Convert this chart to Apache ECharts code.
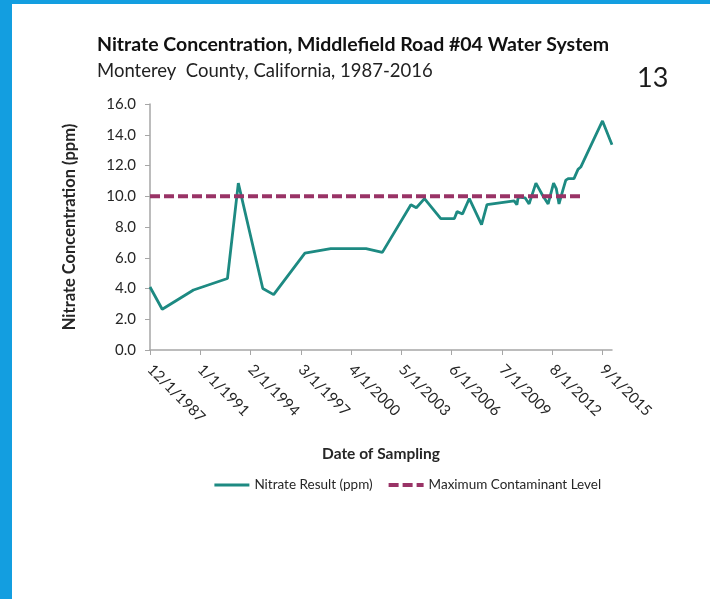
<!DOCTYPE html>
<html>
<head>
<meta charset="utf-8">
<script src="https://cdn.jsdelivr.net/npm/echarts@6/dist/echarts.min.js"></script>
<style>
  html, body { margin: 0; padding: 0; background: #fff; }
  #main { width: 710px; height: 599px; }
</style>
</head>
<body>
<div id="main"></div>
<script>
// sampling dates (year-month) and nitrate results in ppm
const sampleDates = [
  '1987-12', '1988-09', '1990-08', '1992-09', '1993-05', '1994-11', '1995-07',
  '1997-06', '1999-01', '2001-03', '2002-03', '2003-12', '2004-04', '2004-10',
  '2005-10', '2006-08', '2006-10', '2007-02', '2007-07', '2008-04', '2008-08',
  '2010-04', '2010-06', '2010-07', '2010-12', '2011-03', '2011-08', '2012-01',
  '2012-05', '2012-09', '2012-11', '2013-01', '2013-04', '2013-06', '2013-08',
  '2013-12', '2014-03', '2014-05', '2015-05', '2015-06', '2015-09', '2016-04'
]
const nitrateValues = [
  4.1, 2.65, 3.9, 4.65, 10.85, 4.0, 3.6,
  6.3, 6.6, 6.6, 6.35, 9.45, 9.25, 9.85,
  8.55, 8.55, 9.0, 8.85, 9.85, 8.15, 9.45,
  9.7, 9.45, 9.95, 9.9, 9.5, 10.85, 10.05,
  9.5, 10.85, 10.5, 9.5, 10.45, 11.05, 11.15,
  11.15, 11.75, 11.9, 14.15, 14.05, 14.9, 13.35
]
// maximum contaminant level
const mclDates = ['1987-12', '2014-06']
const mclValues = [10, 10]

// x axis tick labels
const tickLabels = [
  '12/1/1987', '1/1/1991', '2/1/1994', '3/1/1997', '4/1/2000',
  '5/1/2003', '6/1/2006', '7/1/2009', '8/1/2012', '9/1/2015'
]
const yTicks = [0, 2, 4, 6, 8, 10, 12, 14, 16]

/** months counted from Dec 1987 */
function monthIndex(s) {
  const p = s.split('-').map(Number)
  return (p[0] - 1987) * 12 + (p[1] - 12)
}
function tickIndex(lbl) {
  const p = lbl.split('/').map(Number)
  return (p[2] - 1987) * 12 + (p[0] - 12)
}
const tickMonths = tickLabels.map(tickIndex)

const FONT = 'Lato'
const TXT = '#262626'

const chart = echarts.init(document.getElementById('main'))
chart.setOption({
  animation: false,
  textStyle: { fontFamily: FONT },
  title: {
    text: 'Nitrate Concentration, Middlefield Road #04 Water System',
    subtext: 'Monterey  County, California, 1987-2016',
    left: 92,
    top: 30,
    itemGap: 7,
    textStyle: { fontFamily: FONT, fontSize: 19.5, fontWeight: 'bold', color: '#111' },
    subtextStyle: { fontFamily: FONT, fontSize: 18.5, color: '#222' }
  },
  graphic: [
    { type: 'rect', shape: { x: 0, y: 0, width: 12, height: 599 }, style: { fill: '#139ee0' } },
    { type: 'rect', shape: { x: 0, y: 0, width: 710, height: 4 }, style: { fill: '#139ee0' } },
    {
      type: 'text', left: 637, top: 65,
      style: { text: '13', fontFamily: FONT, fontSize: 27, fill: '#1a1a1a' }
    }
  ],
  legend: {
    left: 208,
    top: 473,
    itemWidth: 35,
    itemHeight: 14,
    itemGap: 14,
    itemStyle: { opacity: 0 },
    textStyle: { fontFamily: FONT, fontSize: 13.5, color: TXT },
    data: [
      { name: 'Nitrate Result (ppm)', lineStyle: { width: 2.8 } },
      { name: 'Maximum Contaminant Level', lineStyle: { width: 4 } }
    ]
  },
  grid: { left: 150, right: 98, top: 104, bottom: 249 },
  xAxis: {
    type: 'value',
    min: 0,
    max: 340,
    name: 'Date of Sampling',
    nameLocation: 'middle',
    nameGap: 96,
    nameTextStyle: { fontFamily: FONT, fontSize: 15.5, fontWeight: 'bold', color: TXT },
    splitLine: { show: false },
    axisLine: { lineStyle: { color: '#a6a6a6', width: 1.5 } },
    axisTick: { customValues: tickMonths, length: 5, lineStyle: { color: '#a6a6a6' } },
    axisLabel: {
      customValues: tickMonths,
      rotate: -45,
      margin: 17,
      fontSize: 15,
      color: TXT,
      formatter: v => tickLabels[tickMonths.indexOf(v)] || ''
    }
  },
  yAxis: {
    type: 'value',
    min: 0,
    max: 16,
    interval: 2,
    name: 'Nitrate Concentration (ppm)',
    nameLocation: 'middle',
    nameGap: 72,
    nameTextStyle: { fontFamily: FONT, fontSize: 16.5, fontWeight: 'bold', color: TXT },
    splitLine: { show: false },
    axisLine: { show: true, lineStyle: { color: '#a6a6a6', width: 1.5 } },
    axisTick: { show: true, length: 5, lineStyle: { color: '#a6a6a6' } },
    axisLabel: {
      customValues: yTicks,
      margin: 14,
      fontSize: 15,
      color: TXT,
      formatter: v => v.toFixed(1)
    }
  },
  series: [
    {
      name: 'Nitrate Result (ppm)',
      type: 'line',
      symbol: 'none',
      lineStyle: { color: '#1d8a82', width: 2.8 },
      itemStyle: { color: '#1d8a82' },
      data: sampleDates.map((d, i) => [monthIndex(d), nitrateValues[i]])
    },
    {
      name: 'Maximum Contaminant Level',
      type: 'line',
      symbol: 'none',
      lineStyle: { color: '#993366', width: 4, type: [10, 4] },
      itemStyle: { color: '#993366' },
      data: mclDates.map((d, i) => [monthIndex(d), mclValues[i]])
    }
  ]
})
</script>
</body>
</html>
